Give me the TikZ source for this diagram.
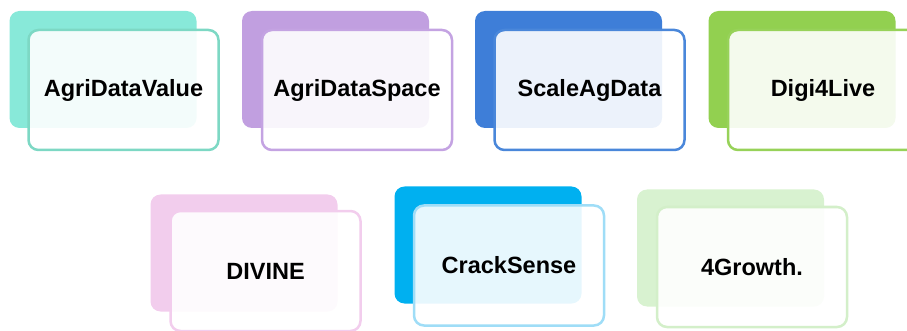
\documentclass[tikz,border=0pt]{standalone}
\usepackage{fontspec}
\setmainfont{Liberation Sans}
\definecolor{c1b}{HTML}{88E9D9}\definecolor{c1f}{HTML}{7DD8C4}
\definecolor{c2b}{HTML}{C19FE0}\definecolor{c2f}{HTML}{C4A3E2}
\definecolor{c3b}{HTML}{3E7ED8}\definecolor{c3f}{HTML}{4A87DA}
\definecolor{c4b}{HTML}{92D050}\definecolor{c4f}{HTML}{97D259}
\definecolor{c5b}{HTML}{F2CDED}\definecolor{c5f}{HTML}{F2CDED}
\definecolor{c6b}{HTML}{00B0F0}\definecolor{c6f}{HTML}{9FDDF7}
\definecolor{c7b}{HTML}{D8F2D0}\definecolor{c7f}{HTML}{D3EFC9}
\tikzset{
  backcard/.style={rectangle, rounded corners=10pt, minimum width=187pt, minimum height=117pt, inner sep=0pt, draw=none},
  frontcard/.style={rectangle, rounded corners=10pt, minimum width=190pt, minimum height=120pt, inner sep=0pt, line width=2.5pt, fill=white, fill opacity=0.9, text opacity=1, draw opacity=1, font=\bfseries\fontsize{23.5}{26}\selectfont, text=black}
}
\newcommand\projcard[8]{%
  \node[backcard, fill=#6] (#1b) at (#2,#3) {};
  \node[frontcard, draw=#7] (#1f) at (#4,#5) {#8};
}
\begin{document}
\begin{tikzpicture}[x=1pt,y=-1pt]
\useasboundingbox (0,0) rectangle (907,331);
\projcard{a}{103}{69.5}{123.5}{90}{c1b}{c1f}{AgriDataValue}
\projcard{b}{335.5}{69.5}{357}{90}{c2b}{c2f}{AgriDataSpace}
\projcard{c}{568.5}{69.5}{589.5}{90}{c3b}{c3f}{ScaleAgData}
\projcard{d}{802}{69.5}{823}{90}{c4b}{c4f}{Digi4Live}
\projcard{e}{244}{253}{265.5}{271}{c5b}{c5f}{DIVINE}
\projcard{f}{488}{245}{509}{265.5}{c6b}{c6f}{CrackSense}
\projcard{g}{730.5}{248}{752}{267}{c7b}{c7f}{4Growth.}
\end{tikzpicture}
\end{document}
